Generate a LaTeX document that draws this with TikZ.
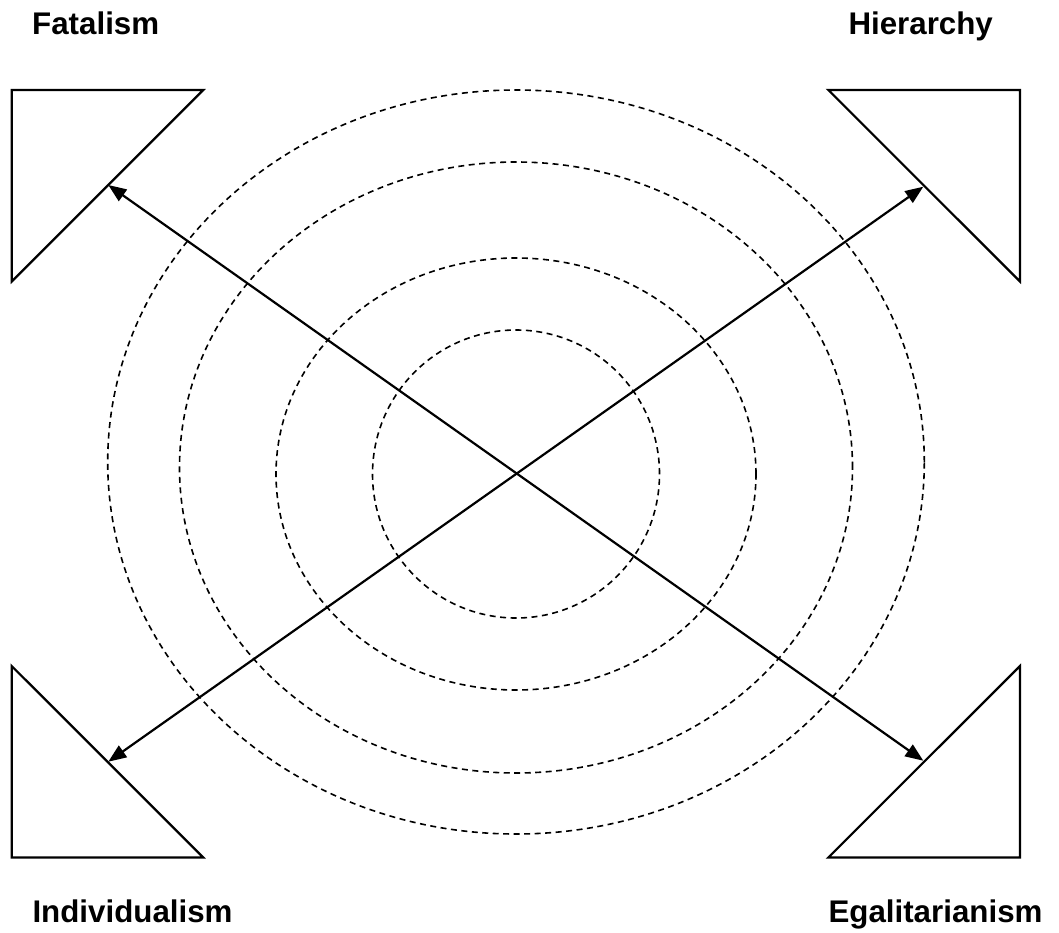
\documentclass[tikz,border=0pt]{standalone}
\usepackage{fontspec}
\setmainfont{Liberation Sans}
\usetikzlibrary{arrows.meta}
\tikzset{
  tri/.style={draw=black, line width=2.2pt, line join=miter},
  ring/.style={draw=black, line width=1.6pt, dash pattern=on 6pt off 4.5pt},
  conn/.style={draw=black, line width=2.2pt, {Triangle[length=18pt,width=14pt]}-{Triangle[length=18pt,width=14pt]}},
  lbl/.style={anchor=base west, inner sep=0pt, font=\fontsize{31.3}{37}\selectfont\bfseries}
}
\begin{document}
\begin{tikzpicture}[x=1pt,y=-1pt]
\useasboundingbox (0,0) rectangle (1059,932);
% triangles
\draw[tri] (11.7,90) -- (203.3,90) -- (11.7,281.5) -- cycle;
\draw[tri] (828.3,90) -- (1020,90) -- (1020,281.5) -- cycle;
\draw[tri] (11.7,666) -- (203.3,857.5) -- (11.7,857.5) -- cycle;
\draw[tri] (1020,666) -- (1020,857.5) -- (828.3,857.5) -- cycle;
% dashed rings
\draw[ring] (516,474) ellipse [x radius=143.5pt, y radius=144pt];
\draw[ring] (516,474) ellipse [x radius=240pt, y radius=216pt];
\draw[ring] (516,467.5) ellipse [x radius=336.5pt, y radius=305.5pt];
\draw[ring] (516,462) ellipse [x radius=408.3pt, y radius=372pt];
% arrow end points
\coordinate (fat) at (108.3,185);
\coordinate (hie) at (923.3,186.7);
\coordinate (ind) at (108.3,761.7);
\coordinate (ega) at (923.3,760.7);
\draw[conn] (fat) -- (ega);
\draw[conn] (hie) -- (ind);
% labels
\node[lbl] (lfat) at (32,34.3) {Fatalism};
\node[lbl] (lhie) at (848.3,34.3) {Hierarchy};
\node[lbl] (lind) at (32.3,922) {Individualism};
\node[lbl] (lega) at (828.3,922) {Egalitarianism};
\end{tikzpicture}
\end{document}
